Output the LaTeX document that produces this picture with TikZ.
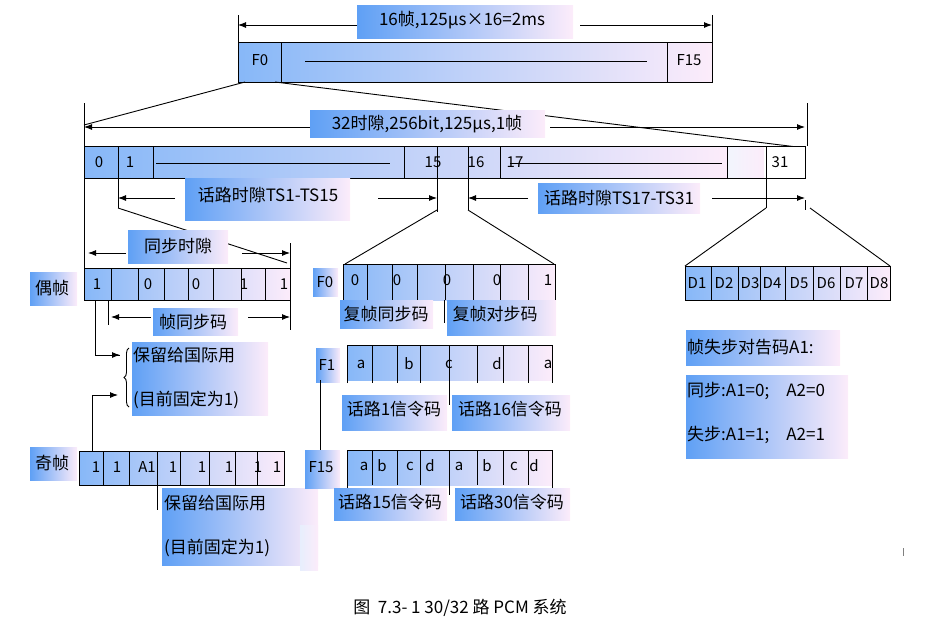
\documentclass[tikz,border=0pt]{standalone}
\usepackage{fontspec}
\setmainfont{Noto Sans CJK SC}
\usetikzlibrary{arrows.meta,decorations.pathreplacing}
\definecolor{blu}{RGB}{95,160,245}
\definecolor{pnk}{RGB}{252,236,250}
\tikzset{
 lbl/.style={left color=blu, right color=pnk, draw=none},
 row/.style={left color=blu!75, right color=pnk},
 ln/.style={line width=0.9pt, black},
 arr/.style={ln, -{Latex[length=8pt,width=6pt]}},
 t/.style={inner sep=0pt, font=\fontsize{17}{17}\selectfont},
 c/.style={inner sep=0pt, font=\fontsize{15}{15}\selectfont},
}
\begin{document}
\begin{tikzpicture}[x=1pt,y=-1pt]
\useasboundingbox (0,0) rectangle (943,630);
% ---------- top: multiframe
\shade[lbl] (357,5) rectangle (573,38);
\node[t] (tl) at (462,20) {16帧,125μs×16=2ms};
\coordinate (tA) at (238,25); \coordinate (tB) at (712,25);
\coordinate (tA0) at (357,25); \coordinate (tB0) at (580,25);
\draw[ln] (238,15) -- (238,50); \draw[ln] (712,15) -- (712,50);
\draw[arr] (tA0) -- (tA);
\draw[arr] (tB0) -- (tB);
\shade[row] (238,42) rectangle (712,82);
\draw[ln] (238,42) rectangle (712,82);
\draw[ln] (281,42) -- (281,82); \draw[ln] (667,42) -- (667,82);
\draw[line width=0.6pt] (305,61) -- (647,61);
\node[c] (f0) at (260,60) {F0};
\node[c] (f15) at (689,60) {F15};
% ---------- frame
\draw[ln] (245,82) -- (84,125);
\draw[ln] (275,82) -- (805,148);
\shade[lbl] (310,110) rectangle (545,137);
\node[t] (fl) at (427,124) {32时隙,256bit,125μs,1帧};
\coordinate (fA) at (84,127); \coordinate (fB) at (805,127);
\coordinate (fA0) at (310,127); \coordinate (fB0) at (550,127);
\draw[arr] (fA0) -- (fA);
\draw[arr] (fB0) -- (fB);
\draw[ln] (84,103) -- (84,270);
\draw[ln] (807,103) -- (807,146);
\shade[row] (84,146) rectangle (727,178);
\shade[left color=pnk!60!blu!20, right color=pnk] (727,146) rectangle (764,178);
\fill[white] (764,146) rectangle (805,178);
\draw[ln] (84,146) rectangle (805,178);
\foreach \x in {118,153,404,500,727} \draw[ln] (\x,146) -- (\x,178);
\draw[ln] (118,146) -- (118,208);
\draw[ln] (437,146) -- (437,212);
\draw[ln] (468,146) -- (468,210);
\draw[ln] (766,146) -- (766,208);
\draw[line width=0.6pt] (156,163) -- (390,163);
\draw[line width=0.6pt] (510,163) -- (722,163);
\node[c] (s0) at (99,162) {0};
\node[c] (s1) at (130,162) {1};
\node[c] (s15) at (433,162) {15};
\node[c] (s16) at (476,162) {16};
\node[c] (s17) at (515,162) {17};
\node[c] (s31) at (780,162) {31};
% TS arrows
\shade[lbl] (185,178) rectangle (350,220);
\node[t] (ts1) at (268,195) {话路时隙TS1-TS15};
\coordinate (a1) at (118,198); \coordinate (a2) at (437,198);
\coordinate (a10) at (175,198); \coordinate (a20) at (378,198);
\draw[arr] (a10) -- (a1);
\draw[arr] (a20) -- (a2);
\shade[lbl] (538,183) rectangle (700,213);
\node[t] (ts2) at (619,198) {话路时隙TS17-TS31};
\coordinate (a3) at (468,198); \coordinate (a4) at (805,198);
\coordinate (a30) at (528,198); \coordinate (a40) at (712,198);
\draw[arr] (a30) -- (a3);
\draw[arr] (a40) -- (a4);
\draw[ln] (805,200) -- (805,210);
% fan lines
\draw[ln] (118,208) -- (287,263);
\draw[ln] (437,210) -- (345,264);
\draw[ln] (468,210) -- (554,264);
\draw[ln] (766,208) -- (685,266);
\draw[ln] (810,208) -- (890,266);
% ---------- even frame
\shade[lbl] (128,230) rectangle (228,263);
\node[t] (sy) at (178,246) {同步时隙};
\coordinate (b1) at (88,253); \coordinate (b2) at (290,253);
\coordinate (b10) at (126,253); \coordinate (b20) at (242,253);
\draw[arr] (b10) -- (b1);
\draw[arr] (b20) -- (b2);
\draw[ln] (290,243) -- (290,330);
\shade[lbl] (30,272) rectangle (77,305);
\node[t] (ev) at (52,288) {偶帧};
\shade[row] (84,268) rectangle (290,300);
\draw[ln] (84,268) rectangle (290,300);
\foreach \x in {111,138,164,188,213,241,265} \draw[ln] (\x,268) -- (\x,300);
\foreach \x/\v in {97/1,148/0,196/0,244/1,284/1} \node[c] at (\x,284) {\v};
\draw[ln] (108,300) -- (108,325);
\shade[lbl] (153,308) rectangle (238,335);
\node[t] (fs) at (193,322) {帧同步码};
\coordinate (b3) at (111,317); \coordinate (b4) at (290,317);
\coordinate (b30) at (151,317); \coordinate (b40) at (248,317);
\draw[arr] (b30) -- (b3);
\draw[arr] (b40) -- (b4);
\shade[lbl] (132,342) rectangle (268,415);
\node[t,anchor=west] (r1) at (133,355) {保留给国际用};
\node[t,anchor=west] (r2) at (133,400) {(目前固定为1)};
\draw[ln,decorate,decoration={brace,amplitude=5pt,mirror}] (129,348) -- (129,407);
\coordinate (p1) at (120,355);
\draw[ln] (95,300) |- (p1);
\draw[arr] (108,355) -- (p1);
% odd frame
\shade[lbl] (30,447) rectangle (77,480);
\node[t] (od) at (52,463) {奇帧};
\shade[row] (79,451) rectangle (284,485);
\draw[ln] (79,451) rectangle (284,485);
\foreach \x in {103,129,157,180,209,235,257} \draw[ln] (\x,451) -- (\x,485);
\foreach \x/\v in {96/1,117/1,147/A1,173/1,202/1,229/1,258/1,277/1} \node[c] at (\x,467) {\v};
\coordinate (p2) at (118,395);
\draw[ln] (92,451) |- (100,395);
\draw[arr] (92,395) -- (p2);
\draw[ln] (157,485) -- (157,510);
\shade[lbl] (162,488) rectangle (318,565);
\node[t,anchor=west] (r3) at (164,503) {保留给国际用};
\node[t,anchor=west] (r4) at (164,548) {(目前固定为1)};
% ---------- multiframe F0
\shade[lbl] (313,268) rectangle (338,296);
\node[c] (mf0) at (325,282) {F0};
\shade[row] (343,264) rectangle (555,300);
\draw[ln] (343,300) -- (343,264) -- (555,264) -- (555,300);
\foreach \x in {367,392,417,445,473,500,528} \draw[ln] (\x,264) -- (\x,300);
\foreach \x/\v in {355/0,397/0,447/0,497/0,548/1} \node[c] at (\x,280) {\v};
\shade[lbl] (340,300) rectangle (433,328);
\node[t] (m1) at (386,314) {复帧同步码};
\shade[lbl] (447,300) rectangle (556,335);
\node[t] (m2) at (495,314) {复帧对步码};
\draw[ln] (444,300) -- (444,323);
% F1
\shade[lbl] (316,348) rectangle (340,382);
\node[c] (mf1) at (327,365) {F1};
\shade[row] (347,345) rectangle (552,380);
\draw[ln] (347,383) -- (347,345) -- (552,345) -- (552,383);
\foreach \x in {372,397,420,477,503,528} \draw[ln] (\x,345) -- (\x,383);
\draw[ln] (449,345) -- (449,405);
\foreach \x/\v in {361/a,409/b,449/c,497/d,548/a} \node[c] at (\x,364) {\v};
\shade[lbl] (342,395) rectangle (447,430);
\node[t] (g1) at (394,409) {话路1信令码};
\shade[lbl] (452,395) rectangle (570,430);
\node[t] (g2) at (510,409) {话路16信令码};
\draw[line width=0.6pt] (320,380) -- (320,455);
% F15
\shade[lbl] (305,450) rectangle (340,488);
\shade[left color=pnk!50!blu!30, right color=pnk] (300,525) rectangle (318,570);
\node[c] (mf15) at (321,467) {F15};
\shade[row] (347,450) rectangle (552,485);
\draw[ln] (347,490) -- (347,450) -- (552,450) -- (552,490);
\foreach \x in {372,397,420,449,477,503,528} \draw[ln] (\x,450) -- (\x,485);
\draw[ln] (449,485) -- (449,495);
\foreach \x/\v in {364/a,382/b,410/c,430/d,459/a,487/b,514/c,534/d} \node[c] at (\x,466) {\v};
\shade[lbl] (334,488) rectangle (447,520);
\node[t] (g3) at (390,502) {话路15信令码};
\shade[lbl] (455,488) rectangle (570,520);
\node[t] (g4) at (512,502) {话路30信令码};
% ---------- D box
\shade[row] (685,266) rectangle (890,300);
\draw[ln] (685,266) rectangle (890,300);
\foreach \x in {711,738,760,785,813,840,867} \draw[ln] (\x,266) -- (\x,300);
\foreach \x/\v in {697/D1,724/D2,750/D3,772/D4,799/D5,826/D6,854/D7,879/D8} \node[c] at (\x,283) {\v};
\shade[lbl] (686,330) rectangle (840,365);
\node[t,anchor=west] (k1) at (687,347) {帧失步对告码A1:};
\shade[lbl] (686,375) rectangle (848,458);
\node[t,anchor=west] (k2) at (687,391) {同步:A1=0;\quad A2=0};
\node[t,anchor=west] (k3) at (687,435) {失步:A1=1;\quad A2=1};
\draw[line width=0.6pt,gray] (903,548) -- (903,556);
% caption
\node[inner sep=0pt, font=\fontsize{17}{17}\selectfont] (cap) at (460,608) {图\ \ 7.3- 1 30/32 路 PCM 系统};
\end{tikzpicture}
\end{document}
